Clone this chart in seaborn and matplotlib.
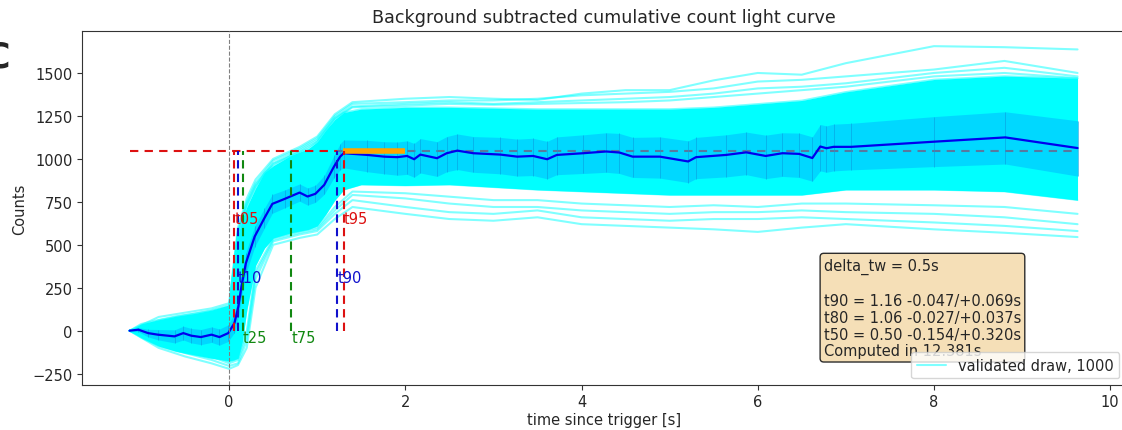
import matplotlib
matplotlib.use("Agg")
import matplotlib.pyplot as plt
from matplotlib.lines import Line2D
import seaborn as sns

# ---------------- data ----------------
t_med = [-1.13, -1.03, -0.92, -0.81, -0.62, -0.52, -0.43, -0.32, -0.20, -0.11,
         -0.01, 0.06, 0.105, 0.14, 0.19, 0.29, 0.40, 0.49, 0.63, 0.80,
         0.89, 0.98, 1.08, 1.19, 1.26, 1.30, 1.57, 1.76, 1.91, 2.02,
         2.10, 2.17, 2.36, 2.47, 2.59, 2.77, 3.08, 3.27, 3.45, 3.61,
         3.72, 4.02, 4.28, 4.43, 4.58, 4.89, 5.21, 5.30, 5.64, 5.87,
         6.09, 6.28, 6.47, 6.62, 6.71, 6.78, 6.86, 7.06, 8.00, 8.81,
         9.63]
median = [0, 6, -14, -23, -33, -14, -29, -37, -23, -37,
          -14, 44, 141, 258, 393, 548, 655, 738, 767, 804,
          781, 797, 849, 955, 1013, 1033, 1023, 1013, 1010, 1017,
          998, 1025, 1004, 1033, 1048, 1033, 1025, 1013, 1017, 998,
          1023, 1033, 1043, 1037, 1013, 1013, 985, 1010, 1023, 1038,
          1017, 1033, 1029, 1005, 1072, 1062, 1070, 1070, 1100, 1125,
          1063]
band_hi = [0, 18, 8, 7, 5, 26, 13, 7, 22, 10,
           34, 99, 201, 320, 455, 608, 713, 793, 819, 854,
           831, 847, 904, 1020, 1088, 1110, 1108, 1100, 1098, 1105,
           1090, 1118, 1100, 1130, 1145, 1130, 1125, 1115, 1120, 1102,
           1128, 1140, 1152, 1148, 1125, 1128, 1105, 1125, 1140, 1156,
           1138, 1152, 1150, 1128, 1200, 1192, 1202, 1207, 1246, 1274,
           1222]
band_lo = [0, -6, -36, -53, -71, -54, -71, -81, -68, -84,
           -62, -11, 81, 196, 331, 488, 597, 683, 715, 754,
           731, 747, 794, 890, 938, 948, 925, 913, 905, 910,
           893, 918, 898, 925, 938, 922, 913, 900, 903, 884,
           908, 915, 922, 915, 892, 888, 862, 885, 895, 908,
           885, 898, 892, 870, 930, 922, 930, 936, 955, 970,
           900]

t_cloud = [-1.13, -1.0, -0.8, -0.6, -0.4, -0.2, 0.0, 0.05, 0.1, 0.15,
           0.2, 0.3, 0.4, 0.5, 0.7, 0.9, 1.0, 1.1, 1.2, 1.3,
           1.5, 2.0, 2.5, 3.0, 3.5, 4.0, 4.5, 5.0, 5.5, 6.0,
           6.5, 7.0, 8.0, 8.8, 9.63]
cloud_hi = [0, 40, 64, 85, 100, 120, 150, 360, 560, 650,
            720, 830, 920, 960, 1020, 1060, 1100, 1170, 1230, 1270,
            1290, 1300, 1300, 1295, 1290, 1290, 1290, 1290, 1300, 1320,
            1340, 1390, 1462, 1482, 1470]
cloud_lo = [0, -40, -90, -120, -140, -160, -175, -170, -160, -60,
            120, 380, 480, 540, 570, 590, 610, 680, 760, 820,
            850, 845, 850, 835, 820, 810, 800, 790, 790, 790,
            790, 820, 820, 810, 760]

t_out = [-1.13, -0.8, -0.5, -0.2, 0.0, 0.1, 0.2, 0.3, 0.5, 0.8,
         1.0, 1.2, 1.4, 2.0, 2.5, 3.0, 3.5, 4.0, 4.5, 5.0,
         5.5, 6.0, 6.5, 7.0, 8.0, 8.8, 9.63]
draw_hi_1 = [0, 80, 105, 130, 160, 600, 770, 880, 1000, 1070,
             1130, 1260, 1330, 1350, 1360, 1350, 1343, 1380, 1400, 1400,
             1457, 1500, 1490, 1557, 1656, 1650, 1637]
draw_hi_2 = [0, 60, 90, 115, 140, 580, 750, 860, 990, 1060,
             1120, 1250, 1320, 1330, 1340, 1340, 1350, 1370, 1380, 1390,
             1410, 1450, 1460, 1480, 1520, 1570, 1500]
draw_hi_3 = [0, 50, 80, 100, 130, 570, 740, 850, 975, 1050,
             1110, 1240, 1305, 1320, 1330, 1320, 1330, 1340, 1350, 1360,
             1380, 1410, 1420, 1440, 1500, 1530, 1480]
draw_hi_4 = [0, 45, 75, 95, 120, 565, 730, 840, 970, 1040,
             1100, 1235, 1300, 1310, 1320, 1315, 1320, 1325, 1330, 1340,
             1360, 1380, 1400, 1420, 1480, 1500, 1470]
draw_lo_1 = [0, -100, -150, -190, -222, -200, -100, 250, 500, 540,
             560, 650, 720, 680, 650, 640, 660, 620, 610, 600,
             590, 575, 600, 620, 590, 570, 545]
draw_lo_2 = [0, -80, -130, -170, -205, -190, -60, 300, 520, 560,
             580, 680, 760, 720, 690, 680, 700, 660, 650, 640,
             650, 650, 660, 650, 630, 610, 580]
draw_lo_3 = [0, -70, -110, -150, -190, -170, -30, 330, 530, 570,
             590, 700, 790, 770, 740, 720, 720, 700, 690, 680,
             690, 690, 700, 690, 680, 660, 620]
draw_lo_4 = [0, -60, -100, -140, -180, -160, 0, 350, 540, 580,
             600, 720, 810, 800, 780, 760, 760, 740, 730, 720,
             730, 720, 740, 740, 730, 720, 680]

level = 1045
t_marks = {"t05": 0.06, "t95": 1.30, "t10": 0.10, "t90": 1.23, "t25": 0.155, "t75": 0.705}
window = [1.29, 2.0]
info_text = ("delta_tw = 0.5s\n\n"
             "t90 = 1.16 -0.047/+0.069s\n"
             "t80 = 1.06 -0.027/+0.037s\n"
             "t50 = 0.50 -0.154/+0.320s\n"
             "Computed in 12.381s")

# ---------------- figure ----------------
sns.set_style("ticks")
plt.rcParams["font.family"] = ["DejaVu Sans"]
plt.rcParams["axes.edgecolor"] = "#333333"
FS = 10.5

fig = plt.figure(figsize=(11.22, 4.31), dpi=100)
ax = fig.add_axes([82 / 1122, 45 / 431, (1126 - 82) / 1122, (386 - 31.7) / 431])

# cloud of draws
ax.fill_between(t_cloud, cloud_lo, cloud_hi, color="#00FFFF", lw=0, zorder=1)
for arr in (draw_hi_1, draw_hi_2, draw_hi_3, draw_hi_4,
            draw_lo_1, draw_lo_2, draw_lo_3, draw_lo_4):
    sns.lineplot(x=t_out, y=arr, ax=ax, color="cyan", alpha=0.5, lw=1.5,
                 zorder=1.2, sort=False)
sns.lineplot(x=t_cloud, y=cloud_hi, ax=ax, color="cyan", alpha=0.5, lw=1.2, zorder=1.1, sort=False)
sns.lineplot(x=t_cloud, y=cloud_lo, ax=ax, color="cyan", alpha=0.5, lw=1.2, zorder=1.1, sort=False)

# reference level (drawn under band)
ax.hlines(level, t_med[0], t_med[-1], colors="#DD1111", linestyles=(0, (4, 3)),
          lw=1.5, zorder=1.5)

# median band
ax.fill_between(t_med, band_lo, band_hi, color="deepskyblue", alpha=0.6, lw=0, zorder=2)
ax.vlines(t_med, band_lo, band_hi, colors="#0A9FE0", lw=0.6, alpha=0.7, zorder=2.1)

# median
sns.lineplot(x=t_med, y=median, ax=ax, color="#0000EE", lw=1.6, zorder=3, sort=False)

# orange window
ax.hlines(level, window[0], window[1], colors="orange", lw=4, zorder=4)

# trigger line
ax.axvline(0, color="gray", ls="--", lw=0.8, zorder=3.5)

# T-marks
mark_cols = {"t05": "#DD1111", "t95": "#DD1111", "t10": "#1111CC", "t90": "#1111CC",
             "t25": "#118811", "t75": "#118811"}
mark_y = {"t05": 654, "t95": 654, "t10": 310, "t90": 310, "t25": -40, "t75": -40}
for k, tv in t_marks.items():
    ax.vlines(tv, 0, level, colors=mark_cols[k], linestyles=(0, (4, 2.5)), lw=1.5, zorder=4.5)
    ax.text(tv, mark_y[k], k, color=mark_cols[k], fontsize=FS, ha="left", va="center", zorder=4.6)

ax.set_xlim(-1.67, 10.18)
ax.set_ylim(-316, 1746)
ax.set_xticks([0, 2, 4, 6, 8, 10])
ax.set_yticks([-250, 0, 250, 500, 750, 1000, 1250, 1500])
ax.tick_params(labelsize=FS, length=3.7, color="#333333", pad=3)
ax.spines["right"].set_visible(False)
ax.set_xlabel("time since trigger [s]", fontsize=FS, labelpad=2)
ax.set_ylabel("Counts", fontsize=FS)
ax.set_title("Background subtracted cumulative count light curve", fontsize=12.6)

ax.text(0.7105, 0.358, info_text, transform=ax.transAxes, fontsize=FS,
        ha="left", va="top", zorder=6, linespacing=1.15,
        bbox=dict(boxstyle="round,pad=0.25", facecolor="wheat", edgecolor="#222222", alpha=0.95))

handle = Line2D([], [], color="cyan", alpha=0.5, lw=1.5)
leg = ax.legend([handle], ["validated draw, 1000"], loc="lower right", fontsize=FS,
                framealpha=0.8, borderaxespad=0.45)
leg.set_zorder(10)

fig.text(10 / 1122, 1 - 57 / 431, "C", fontsize=25, fontweight="bold", ha="right", va="center")

fig.savefig("out.png", dpi=100)
